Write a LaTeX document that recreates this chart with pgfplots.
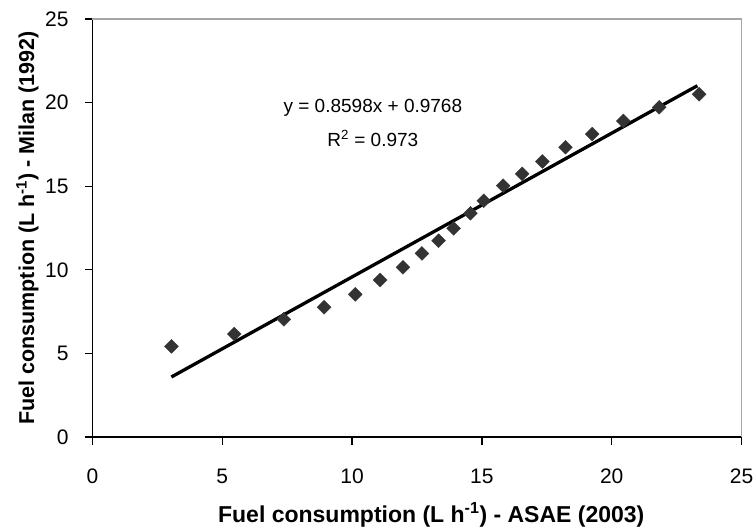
\documentclass[border=0pt]{standalone}
\usepackage{fontspec}
\setmainfont{Liberation Sans}
\usepackage{pgfplots}
\pgfplotsset{compat=1.18}
\definecolor{markgray}{HTML}{333333}
\begin{document}
\begin{tikzpicture}
\useasboundingbox (-92.5bp,-94bp) rectangle (661.5bp,437bp);
\begin{axis}[
    at={(0,0)}, anchor=south west,
    scale only axis,
    width=649bp, height=418bp,
    xmin=0, xmax=25, ymin=0, ymax=25,
    xtick={0,5,...,25}, ytick={0,5,...,25},
    axis x line*=bottom, axis y line*=left,
    axis line style={-, black, line width=1.6pt},
    tick align=outside,
    major tick length=7.5bp,
    tick style={black, line width=1.4pt},
    /pgf/number format/assume math mode=true,
    ticklabel style={font=\fontsize{21bp}{24bp}\selectfont},
    xticklabel style={yshift=-21bp},
    yticklabel style={xshift=-13bp},
    xlabel={Fuel consumption (L h\textsuperscript{-1}) - ASAE (2003)},
    ylabel={Fuel consumption (L h\textsuperscript{-1}) - Milan (1992)},
    xlabel style={font=\bfseries\fontsize{23bp}{27bp}\selectfont,
        at={(axis description cs:0.522,-0.187)}, anchor=center},
    ylabel style={font=\bfseries\fontsize{21.5bp}{25bp}\selectfont,
        at={(axis description cs:-0.1003,0.5)}, anchor=center, rotate=0},
    clip=false,
]
% trendline end points
\addplot[black, line width=3.3pt] coordinates {(3.04,3.59) (23.3,21.01)};
\addplot[only marks, mark=square*, mark size=4.9bp,
    mark options={rotate=45, fill=markgray, draw=markgray}] coordinates {
    (3.04,5.42) (5.46,6.16) (7.37,7.04) (8.92,7.76) (10.12,8.53)
    (11.08,9.39) (11.96,10.15) (12.69,10.98) (13.33,11.74) (13.91,12.48)
    (14.56,13.38) (15.07,14.13) (15.82,15.03) (16.55,15.74) (17.33,16.48)
    (18.22,17.33) (19.25,18.12) (20.45,18.90) (21.83,19.72) (23.37,20.50)
};
\draw[gray!70, line width=1.2pt] (rel axis cs:0,1) -- (rel axis cs:1,1) -- (rel axis cs:1,0);
\node[font=\fontsize{19bp}{22bp}\selectfont] at (axis cs:10.8,19.7) {y = 0.8598x + 0.9768};
\node[font=\fontsize{19bp}{22bp}\selectfont] at (axis cs:10.8,17.85) {R\textsuperscript{2} = 0.973};
\end{axis}
\end{tikzpicture}
\end{document}
